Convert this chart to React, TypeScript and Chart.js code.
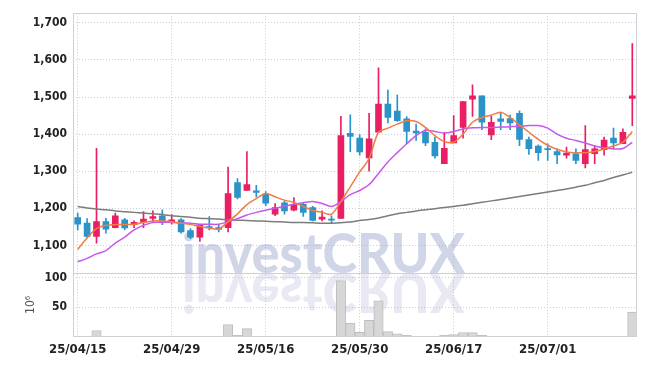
import React, { useEffect, useRef } from "react";
import { Chart, registerables } from "chart.js";

Chart.register(...registerables);

const dates = [
  "25/04/15", "25/04/16", "25/04/17", "25/04/18", "25/04/21", "25/04/22", "25/04/23", "25/04/24", "25/04/25", "25/04/28",
  "25/04/29", "25/04/30", "25/05/02", "25/05/07", "25/05/08", "25/05/09", "25/05/12", "25/05/13", "25/05/14", "25/05/15",
  "25/05/16", "25/05/19", "25/05/20", "25/05/21", "25/05/22", "25/05/23", "25/05/26", "25/05/27", "25/05/28", "25/05/29",
  "25/05/30", "25/06/02", "25/06/04", "25/06/05", "25/06/09", "25/06/10", "25/06/11", "25/06/12", "25/06/13", "25/06/16",
  "25/06/17", "25/06/18", "25/06/19", "25/06/20", "25/06/23", "25/06/24", "25/06/25", "25/06/26", "25/06/27", "25/06/30",
  "25/07/01", "25/07/02", "25/07/03", "25/07/04", "25/07/07", "25/07/08", "25/07/09", "25/07/10", "25/07/11", "25/07/14",
];

const openP = [
  1175, 1160, 1124, 1164, 1148, 1169, 1156, 1162, 1173, 1180,
  1163, 1169, 1140, 1122, 1151, 1148, 1148, 1269, 1248, 1247,
  1238, 1184, 1215, 1195, 1211, 1202, 1171, 1170, 1173, 1402,
  1389, 1336, 1405, 1481, 1462, 1441, 1408, 1405, 1378, 1320,
  1376, 1418, 1494, 1503, 1398, 1441, 1442, 1456, 1385, 1368,
  1360, 1353, 1343, 1347, 1320, 1347, 1358, 1389, 1374, 1496,
];
const highP = [
  1187, 1172, 1362, 1173, 1187, 1173, 1166, 1191, 1193, 1196,
  1183, 1172, 1145, 1156, 1178, 1154, 1311, 1280, 1353, 1262,
  1245, 1213, 1220, 1229, 1216, 1205, 1193, 1180, 1448, 1452,
  1398, 1456, 1579, 1519, 1505, 1447, 1427, 1414, 1392, 1405,
  1450, 1488, 1533, 1503, 1450, 1459, 1451, 1463, 1392, 1371,
  1374, 1360, 1365, 1360, 1423, 1369, 1392, 1416, 1414, 1644,
];
const lowP = [
  1142, 1120, 1106, 1133, 1147, 1142, 1148, 1148, 1164, 1156,
  1157, 1133, 1118, 1111, 1142, 1136, 1136, 1225, 1248, 1231,
  1207, 1180, 1184, 1193, 1178, 1166, 1166, 1161, 1173, 1353,
  1343, 1300, 1405, 1430, 1434, 1374, 1383, 1369, 1335, 1320,
  1376, 1389, 1448, 1412, 1385, 1412, 1412, 1369, 1345, 1329,
  1329, 1320, 1335, 1320, 1309, 1320, 1343, 1360, 1374, 1423,
];
const closeP = [
  1157, 1124, 1164, 1144, 1180, 1147, 1162, 1171, 1178, 1164,
  1169, 1136, 1122, 1154, 1147, 1143, 1240, 1229, 1264, 1243,
  1214, 1202, 1193, 1211, 1189, 1167, 1176, 1168, 1396, 1394,
  1352, 1387, 1481, 1445, 1436, 1407, 1403, 1376, 1341, 1362,
  1396, 1488, 1503, 1432, 1432, 1434, 1430, 1386, 1361, 1350,
  1358, 1344, 1349, 1329, 1358, 1360, 1384, 1376, 1405, 1503,
];
const volume = [
  0.2, 0.2, 11, 1, 1, 0.2, 0.2, 0.2, 0.2, 0.2,
  0.2, 0.2, 0.2, 0.2, 0.2, 0.2, 21, 3, 14, 1,
  0.5, 0.2, 0.2, 0.2, 0.2, 0.2, 0.2, 0.2, 95, 23.5,
  8, 28, 61, 9, 5.5, 3, 1, 1, 0.5, 3,
  4, 7.5, 7.5, 3, 1, 1, 1, 1, 0.8, 0.5,
  0.3, 0.3, 0.3, 0.3, 1, 0.3, 0.3, 1, 0.3, 42,
];
const ma5 = [
  1089, 1120, 1145, 1154, 1156, 1156, 1157, 1162, 1166, 1166,
  1164, 1160, 1156, 1151, 1147, 1144, 1164, 1185, 1210, 1226,
  1240, 1231, 1222, 1216, 1205, 1194, 1189, 1184, 1218, 1258,
  1298, 1334, 1405, 1416, 1427, 1436, 1434, 1418, 1396, 1380,
  1378, 1400, 1432, 1445, 1451, 1459, 1445, 1425, 1405, 1386,
  1370, 1359, 1352, 1350, 1350, 1353, 1360, 1368, 1378, 1407,
];
const ma20 = [
  1056, 1065, 1077, 1086, 1106, 1122, 1142, 1154, 1162, 1162,
  1162, 1160, 1160, 1157, 1157, 1157, 1164, 1172, 1182, 1189,
  1195, 1200, 1206, 1211, 1215, 1218, 1213, 1205, 1218, 1237,
  1248, 1264, 1294, 1325, 1350, 1374, 1396, 1410, 1407, 1403,
  1407, 1414, 1417, 1418, 1418, 1419, 1420, 1421, 1423, 1423,
  1416, 1400, 1389, 1383, 1376, 1368, 1363, 1360, 1361, 1378,
];
const ma60 = [
  1205, 1201, 1198, 1196, 1193, 1191, 1189, 1187, 1185, 1183,
  1180, 1178, 1176, 1173, 1172, 1171, 1169, 1168, 1167, 1166,
  1165, 1164, 1163, 1162, 1162, 1161, 1160, 1160, 1161, 1163,
  1167, 1170, 1174, 1180, 1185, 1189, 1193, 1196, 1199, 1202,
  1205, 1208, 1212, 1216, 1220, 1224, 1228, 1232, 1236, 1240,
  1244, 1248, 1252, 1257, 1262, 1269, 1275, 1283, 1290, 1297,
];
const priceTicks = [1100, 1200, 1300, 1400, 1500, 1600, 1700];
const volumeTicks = [50, 100];

const UP = "#e91e63";
const DOWN = "#2b93c8";
const GRID = "#c9cde0";
const FONT = "'DejaVu Sans Condensed', 'Liberation Sans Narrow', 'DejaVu Sans', sans-serif";

const watermarkPlugin = {
  id: "watermark",
  beforeDatasetsDraw(chart: any) {
    const { ctx } = chart;
    const y = chart.scales.y;
    const base = y.bottom;
    const left = 182;
    const targetW = 283;
    ctx.save();
    ctx.font = "900 56px Lato, Roboto, 'DejaVu Sans', sans-serif";
    const w = ctx.measureText("investCRUX").width;
    const sx = targetW / w;
    ctx.textBaseline = "alphabetic";
    ctx.textAlign = "left";
    ctx.save();
    ctx.translate(left, base);
    ctx.scale(sx, 1);
    ctx.fillStyle = "rgba(137,152,197,0.4)";
    ctx.fillText("investCRUX", 0, 0);
    ctx.restore();
    ctx.save();
    ctx.translate(left, base);
    ctx.scale(sx, -1);
    ctx.fillStyle = "rgba(163,163,203,0.24)";
    ctx.fillText("investCRUX", 0, 0);
    ctx.restore();
    ctx.restore();
  },
  afterDraw(chart: any) {
    const { ctx, chartArea } = chart;
    const y = chart.scales.y;
    ctx.save();
    ctx.strokeStyle = "#cfd0d6";
    ctx.lineWidth = 1;
    ctx.beginPath();
    ctx.rect(Math.round(chartArea.left) + 0.5, Math.round(chartArea.top) + 0.5,
      Math.round(chartArea.right - chartArea.left) - 1, Math.round(chartArea.bottom - chartArea.top) - 1);
    ctx.moveTo(chartArea.left, Math.round(y.bottom) + 0.5);
    ctx.lineTo(chartArea.right, Math.round(y.bottom) + 0.5);
    ctx.stroke();
    ctx.restore();
  },
};

export default function App() {
  const ref = useRef<HTMLCanvasElement | null>(null);

  useEffect(() => {
    if (!ref.current) return;
    const colors = openP.map((o, i) => (closeP[i] >= o ? UP : DOWN));
    const chart = new Chart(ref.current, {
      type: "bar",
      data: {
        labels: dates,
        datasets: [
          {
            type: "line",
            label: "MA5",
            data: ma5,
            yAxisID: "y",
            borderColor: "#ef7d45",
            borderWidth: 1.5,
            pointRadius: 0,
            tension: 0.3,
            order: 0,
          } as any,
          {
            type: "line",
            label: "MA20",
            data: ma20,
            yAxisID: "y",
            borderColor: "#c857ec",
            borderWidth: 1.5,
            pointRadius: 0,
            tension: 0.3,
            order: 0,
          } as any,
          {
            type: "line",
            label: "MA60",
            data: ma60,
            yAxisID: "y",
            borderColor: "#7c7c7c",
            borderWidth: 1.5,
            pointRadius: 0,
            tension: 0.3,
            order: 0,
          } as any,
          {
            type: "bar",
            label: "body",
            data: openP.map((o, i) => [o, closeP[i]]),
            yAxisID: "y",
            backgroundColor: colors,
            borderWidth: 0,
            barThickness: 6,
            minBarLength: 1,
            grouped: false,
            order: 1,
          } as any,
          {
            type: "bar",
            label: "wick",
            data: lowP.map((l, i) => [l, highP[i]]),
            yAxisID: "y",
            backgroundColor: colors,
            borderWidth: 0,
            barThickness: 1,
            grouped: false,
            order: 2,
          } as any,
          {
            type: "bar",
            label: "volume",
            data: volume,
            yAxisID: "yv",
            backgroundColor: "#d7d7d7",
            borderColor: "#bdbdbd",
            borderWidth: 1,
            barPercentage: 1,
            categoryPercentage: 1,
            grouped: false,
            order: 3,
          } as any,
        ],
      },
      options: {
        animation: false,
        responsive: false,
        devicePixelRatio: 1,
        layout: { padding: { top: 9, right: 10, left: 0, bottom: 0 } },
        plugins: { legend: { display: false }, tooltip: { enabled: false } },
        scales: {
          x: {
            type: "category",
            offset: true,
            border: { display: false, dash: [1, 2] },
            grid: {
              offset: false,
              drawTicks: false,
              color: (c: any) => (c.index % 10 === 0 ? GRID : "rgba(0,0,0,0)"),
            },
            ticks: {
              autoSkip: false,
              maxRotation: 0,
              padding: 5,
              color: "#222",
              font: { family: FONT, size: 13, weight: "bold" },
              callback: function (this: any, v: any, i: number) {
                return i % 10 === 0 ? dates[i] : "";
              },
            },
            afterFit: (s: any) => { s.height = 29; },
          },
          y: {
            type: "linear",
            position: "left",
            stack: "panels",
            stackWeight: 263,
            weight: 1,
            min: 1026,
            max: 1726,
            border: { display: false, dash: [1, 2] },
            grid: { drawTicks: false, color: GRID },
            ticks: {
              padding: 6,
              color: "#222",
              font: { family: FONT, size: 12, weight: "bold" },
              callback: (v: any) => Number(v).toLocaleString("en-US"),
            },
            afterBuildTicks: (s: any) => { s.ticks = priceTicks.map((v) => ({ value: v })); },
            afterFit: (s: any) => { s.width = 73; },
          },
          yv: {
            type: "linear",
            position: "left",
            stack: "panels",
            stackWeight: 65,
            weight: 0,
            min: 0,
            max: 108,
            border: { display: false, dash: [1, 2] },
            grid: { drawTicks: false, color: GRID },
            title: {
              display: true,
              text: "10⁶",
              color: "#555",
              font: { family: FONT, size: 12 },
              padding: { top: 24, bottom: 0 },
            },
            ticks: {
              padding: 6,
              color: "#222",
              font: { family: FONT, size: 12, weight: "bold" },
            },
            afterBuildTicks: (s: any) => { s.ticks = volumeTicks.map((v) => ({ value: v })); },
            afterFit: (s: any) => { s.width = 73; },
          },
        },
      },
      plugins: [watermarkPlugin],
    } as any);
    return () => chart.destroy();
  }, []);

  return (
    <div style={{ position: "absolute", left: 0, top: 0, width: 647, height: 366, background: "#fff" }}>
      <canvas ref={ref} width={647} height={366} style={{ display: "block", width: 647, height: 366 }} />
    </div>
  );
}
